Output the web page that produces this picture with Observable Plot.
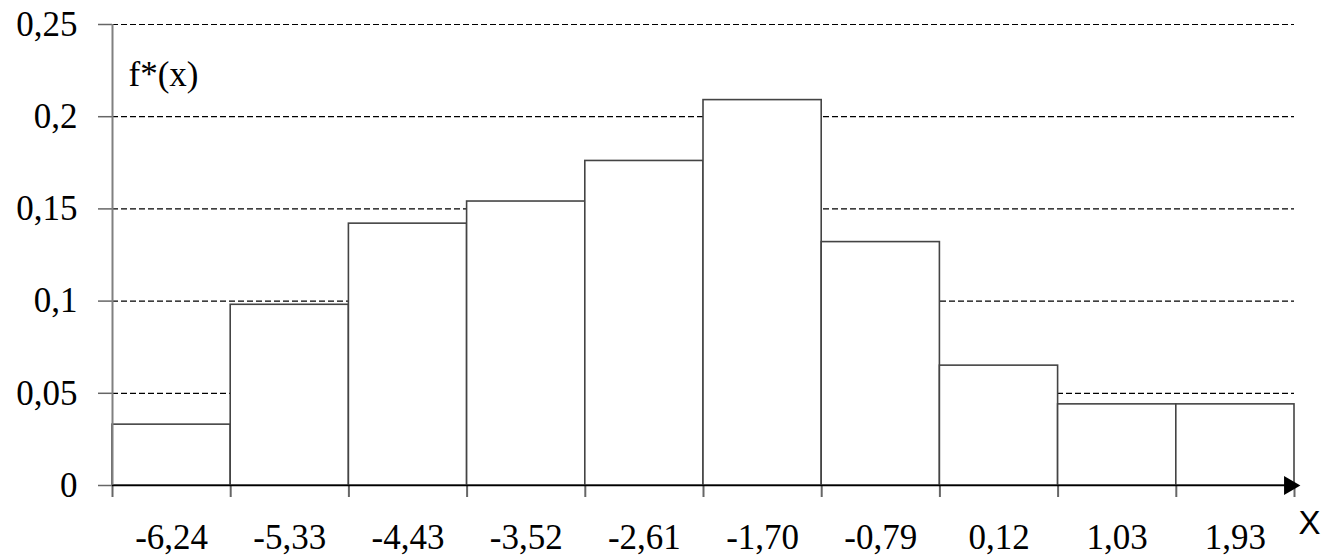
<!DOCTYPE html>
<html><head><meta charset="utf-8">
<script src="https://cdn.jsdelivr.net/npm/d3@7"></script>
<script src="https://cdn.jsdelivr.net/npm/@observablehq/plot@0.6"></script>
<style>
html,body{margin:0;padding:0;background:#fff;}
#chart svg{display:block;}
</style></head><body><div id="chart"></div>
<script>
const xLabels = ["-6,24","-5,33","-4,43","-3,52","-2,61","-1,70","-0,79","0,12","1,03","1,93"];
const frequencies = [0.033,0.098,0.142,0.154,0.176,0.209,0.132,0.065,0.044,0.044];
const yTicks = [0,0.05,0.1,0.15,0.2,0.25];
const yTickLabels = ["0","0,05","0,1","0,15","0,2","0,25"];
const gridValues = [0.05,0.1,0.15,0.2,0.25];
const yLabel = "f*(x)";
const xLabel = "X";

const bins = xLabels.map((label,i)=>({label, i0:i, i1:i+1, mid:i+0.5, f:frequencies[i]}));
const edges = d3.range(xLabels.length+1);
const mids = bins.map(b=>b.mid);

const plot = Plot.plot({
  width:1322, height:558, marginLeft:112, marginRight:28, marginTop:24, marginBottom:73,
  x:{domain:[0, xLabels.length]},
  y:{domain:[0,0.25]},
  style:{fontFamily:"'Liberation Serif','Times New Roman',serif", fontSize:"35px", color:"#000", background:"#fff", overflow:"visible"},
  marks:[
    Plot.ruleY(gridValues, {stroke:"#000", strokeDasharray:"6,3", strokeWidth:1.2}),
    Plot.rectY(bins, {x1:"i0", x2:"i1", y:"f", fill:"#fff", stroke:"#444", strokeWidth:1.6}),
    Plot.axisX({ticks:edges, tickFormat:()=>"", tickSize:12, stroke:"#666", strokeWidth:2, label:null}),
    Plot.axisX({ticks:mids, tickFormat:d=>xLabels[Math.floor(d)], tickSize:0, tickPadding:39, fontSize:35, label:null, fill:"#000"}),
    Plot.axisY({ticks:yTicks, tickFormat:(d,i)=>yTickLabels[i], tickSize:14, tickPadding:21, fontSize:35, stroke:"#666", strokeWidth:1.5, label:null, fill:"#000"}),
    Plot.ruleX([0], {y1:0, y2:0.25, stroke:"#808080", strokeWidth:2}),
    Plot.ruleY([0], {stroke:"#000", strokeWidth:1.5}),
    Plot.dot([xLabels.length], {x:d=>d, y:()=>0, symbol:"triangle", rotate:90, r:7, fill:"#000", stroke:"none", dx:-5}),
    Plot.text([yLabel], {frameAnchor:"top-left", lineAnchor:"middle", text:d=>d, dx:16, dy:50, textAnchor:"start", fontSize:35, fill:"#000"}),
    Plot.text([xLabel], {frameAnchor:"bottom-right", lineAnchor:"middle", text:d=>d, dx:4, dy:38, textAnchor:"start", fontSize:33, fontFamily:"'Liberation Sans',Arial,sans-serif", fill:"#000"})
  ]
});
document.getElementById("chart").appendChild(plot);
</script></body></html>
